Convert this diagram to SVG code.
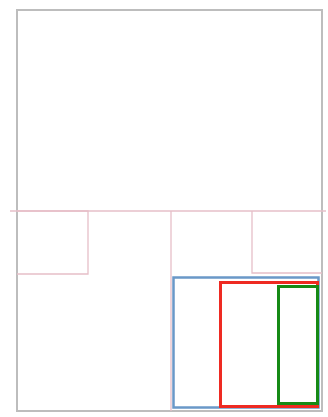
<svg xmlns="http://www.w3.org/2000/svg" width="328" height="417" viewBox="0 0 328 417">
<style>
.frame{fill:none;stroke:#bdbdbd;stroke-width:2}
.pink{fill:none;stroke:#e6bfc8;stroke-width:1.3}
.blue{fill:none;stroke:#6a98c8;stroke-width:2.5}
.red{fill:none;stroke:#ee2a22;stroke-width:3}
.green{fill:none;stroke:#168a16;stroke-width:3}
</style>
<rect width="328" height="417" fill="#ffffff"/>
<g id="frame"><rect class="frame" x="17" y="10" width="305" height="401"/></g>
<g id="connectors">
<line class="pink" x1="10" y1="211" x2="326" y2="211"/>
<line class="pink" x1="171" y1="211" x2="171" y2="411"/>
</g>
<g id="pink-left"><polyline class="pink" points="17,211 88,211 88,274 17,274"/></g>
<g id="pink-right"><polyline class="pink" points="252,211 252,273 322,273"/></g>
<g id="blue"><rect class="blue" x="173.5" y="277.5" width="145" height="130"/></g>
<g id="red"><rect class="red" x="220.5" y="282.5" width="97" height="124"/></g>
<g id="green"><rect class="green" x="278.5" y="286.5" width="39" height="117"/></g>
</svg>
